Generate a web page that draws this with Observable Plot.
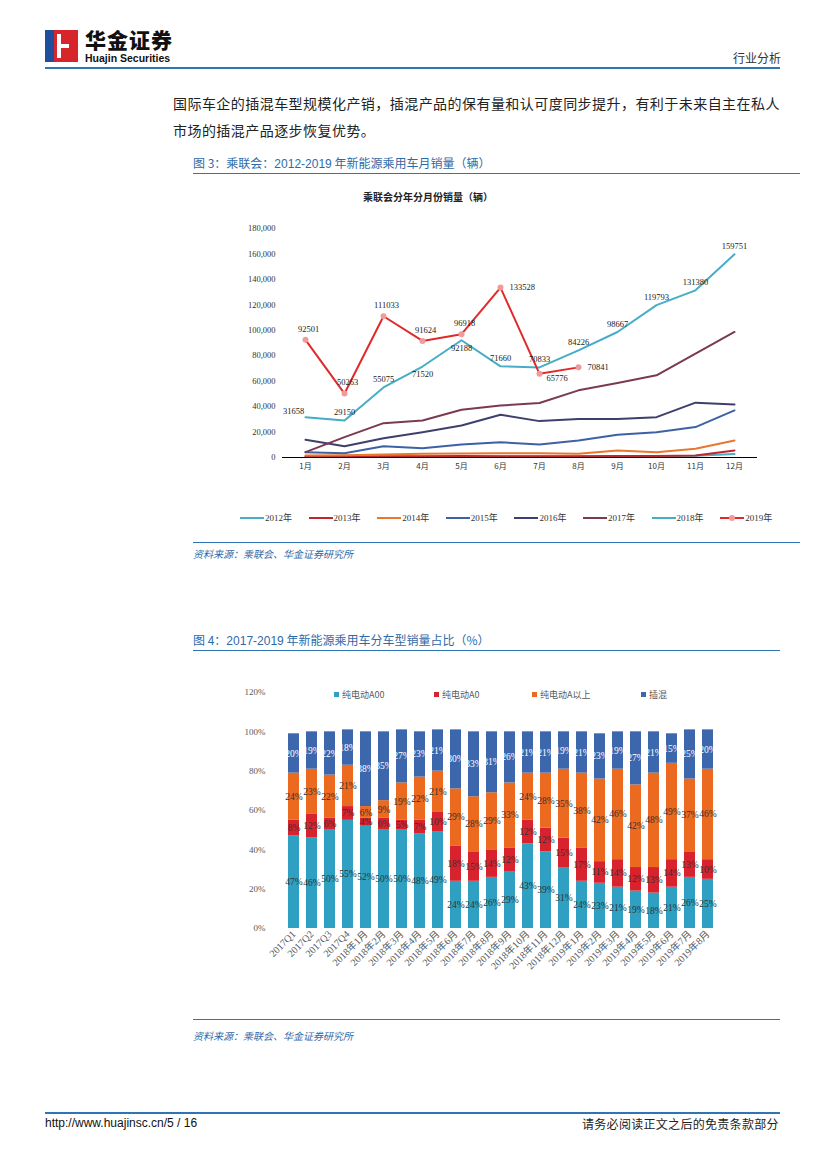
<!DOCTYPE html>
<html><head><meta charset="utf-8">
<script src="https://cdn.jsdelivr.net/npm/d3@7"></script>
<script src="https://cdn.jsdelivr.net/npm/@observablehq/plot@0.6"></script>
<style>
body{margin:0;background:#fff;}
#page{position:relative;width:827px;height:1169px;overflow:hidden;font-family:"Noto Sans CJK SC","Noto Sans",sans-serif;}
.abs{position:absolute;white-space:nowrap;}
.cap{color:#2f6aa8;font-size:12px;}
.src{color:#2f6aa8;font-size:10px;font-style:italic;}
.hr{position:absolute;height:0;border-top:1.5px solid #2e75b6;}
.leg1{position:absolute;top:511px;font-family:"Liberation Serif",serif;font-size:9px;color:#333;display:flex;align-items:center;}
.leg1 .ln{display:inline-block;width:24px;height:2px;margin-right:1px;position:relative;}
.leg2{position:absolute;top:688px;font-size:9px;color:#595959;display:flex;align-items:center;}
.leg2 .sq{display:inline-block;width:5px;height:5px;margin-right:3px;}
</style></head>
<body><div id="page">
<!-- header -->
<div class="abs" style="left:45px;top:30px;width:33px;height:32px;background:#d7252c;"></div>
<div class="abs" style="left:45px;top:30px;width:9px;height:32px;background:#1f4e9c;"></div>
<div class="abs" style="left:57px;top:34px;width:4px;height:24px;background:#fff;"></div>
<div class="abs" style="left:61px;top:44px;width:8px;height:4px;background:#fff;"></div>
<div class="abs" style="left:85px;top:29px;font-size:21px;line-height:21px;font-weight:900;color:#111;letter-spacing:1px;">华金证券</div>
<div class="abs" style="left:85px;top:53px;font-family:'Liberation Sans',sans-serif;font-size:10.5px;line-height:10px;font-weight:bold;color:#111;">Huajin Securities</div>
<div class="abs" style="left:733px;top:49px;font-size:12px;color:#333;">行业分析</div>
<div class="hr" style="left:45px;width:735px;top:67px;border-top-width:2px;"></div>

<div class="abs" style="left:173px;top:93px;font-size:14px;letter-spacing:0.45px;color:#222;">国际车企的插混车型规模化产销，插混产品的保有量和认可度同步提升，有利于未来自主在私人</div>
<div class="abs" style="left:173px;top:120px;font-size:14px;letter-spacing:0.45px;color:#222;">市场的插混产品逐步恢复优势。</div>

<!-- figure 3 -->
<div class="abs cap" style="left:193px;top:154px;">图 3：乘联会：<span style="font-family:'Liberation Sans',sans-serif;">2012-2019</span> 年新能源乘用车月销量（辆）</div>
<div class="hr" style="left:193px;width:607px;top:173px;"></div>
<div class="abs" style="left:363px;top:189px;font-size:10px;font-weight:bold;color:#222;">乘联会分年分月份销量（辆）</div>
<div id="chart1" class="abs" style="left:240px;top:210px;"></div>
<div id="legend1"></div>
<div class="hr" style="left:193px;width:607px;top:542px;"></div>
<div class="abs src" style="left:193px;top:546px;">资料来源：乘联会、华金证券研究所</div>

<!-- figure 4 -->
<div class="abs cap" style="left:193px;top:631px;">图 4：<span style="font-family:'Liberation Sans',sans-serif;">2017-2019</span> 年新能源乘用车分车型销量占比（%）</div>
<div class="hr" style="left:193px;width:587px;top:650px;"></div>
<div id="chart2" class="abs" style="left:200px;top:680px;"></div>
<div id="legend2"></div>
<div class="hr" style="left:193px;width:587px;top:1019px;"></div>
<div class="abs src" style="left:193px;top:1028px;">资料来源：乘联会、华金证券研究所</div>

<!-- footer -->
<div class="hr" style="left:45px;width:735px;top:1112px;border-top-width:2px;"></div>
<div class="abs" style="left:45px;top:1116px;font-family:'Liberation Sans',sans-serif;font-size:12px;color:#111;">http://www.huajinsc.cn/5 / 16</div>
<div class="abs" style="left:582px;top:1115px;font-size:12px;letter-spacing:0.3px;color:#222;">请务必阅读正文之后的免责条款部分</div>
</div>
<script>
// ---------- Figure 3 data ----------
const months = ["1月","2月","3月","4月","5月","6月","7月","8月","9月","10月","11月","12月"];
const years = ["2012年","2013年","2014年","2015年","2016年","2017年","2018年","2019年"];
const yearColors = ["#4aabc5","#c0272d","#e9772e","#3d62a3","#3e3f6d","#7b3a4f","#47adc6","#e02a2a"];
const s2012 = [300,400,500,500,600,700,700,800,900,1000,1300,2800];
const s2013 = [800,700,900,1000,1100,1000,900,1000,1100,1200,1500,5500];
const s2014 = [1600,1700,2400,2900,3200,3400,3400,2900,5500,4200,6800,13400];
const s2015 = [4200,3400,8900,7300,10200,12000,10200,13400,17800,19900,23900,37000];
const s2016 = [13900,8900,15200,19900,25200,33600,28600,30200,30200,31700,43100,41700];
const s2017 = [4200,16000,27000,29100,37500,40900,42800,52800,58500,64600,81600,98700];
const s2018 = [31658,29150,55075,71520,92188,71660,70833,84226,98667,119793,131380,159751];
const s2019 = [92501,50263,111033,91624,96918,133528,65776,70841];
const yTicks1 = [0,20000,40000,60000,80000,100000,120000,140000,160000,180000];

const seriesList = [s2012,s2013,s2014,s2015,s2016,s2017,s2018,s2019];
const long1 = [];
seriesList.forEach((vals, k) => vals.forEach((v, i) => long1.push({year: years[k], month: months[i], value: v, i})));
const d2018 = long1.filter(d => d.year === "2018年");
const d2019 = long1.filter(d => d.year === "2019年");

const chart1 = Plot.plot({
  width: 530, height: 280,
  marginLeft: 42, marginRight: 13, marginTop: 18, marginBottom: 33,
  x: {type: "point", domain: months, padding: 0.5, label: null},
  y: {domain: [0, 180000], label: null},
  color: {domain: years, range: yearColors},
  style: {fontFamily: "'Liberation Serif', serif", fontSize: "8.5px", color: "#333", background: "transparent"},
  marks: [
    Plot.axisY({ticks: yTicks1, tickSize: 0, tickPadding: 7, tickFormat: d3.format(","), label: null}),
    Plot.axisX({tickSize: 0, tickPadding: 6, label: null, fontFamily: "'Noto Sans CJK SC', sans-serif", fontSize: 8}),
    Plot.line(long1, {x: "month", y: "value", z: "year", stroke: "year", strokeWidth: 2}),
    Plot.ruleY([0], {stroke: "#000", strokeWidth: 1.2}),
    Plot.dot(d2019, {x: "month", y: "value", fill: "#f29a9a", r: 3, symbol: "circle"}),
    // 2018 labels
    Plot.text(d2018.filter(d => ![0,3,4].includes(d.i)), {x: "month", y: "value", text: d => String(d.value), dy: -8, fill: "#222"}),
    Plot.text(d2018.filter(d => d.i === 0), {x: "month", y: "value", text: d => String(d.value), dy: -6, dx: -12, fill: "#222"}),
    Plot.text(d2018.filter(d => [3,4].includes(d.i)), {x: "month", y: "value", text: d => String(d.value), dy: 8, fill: "#222"}),
    // 2019 labels
    Plot.text(d2019.filter(d => d.i <= 4), {x: "month", y: "value", text: d => String(d.value), dy: -11, dx: 3, fill: "#222"}),
    Plot.text(d2019.filter(d => d.i === 5 || d.i === 7), {x: "month", y: "value", text: d => String(d.value), dx: 9, textAnchor: "start", fill: "#222"}),
    Plot.text(d2019.filter(d => d.i === 6), {x: "month", y: "value", text: d => String(d.value), dx: 7, dy: 4, textAnchor: "start", fill: "#222"})
  ]
});
document.getElementById("chart1").appendChild(chart1);

// legend 1
const leg1 = document.getElementById("legend1");
years.forEach((y, k) => {
  const el = document.createElement("div");
  el.className = "leg1";
  el.style.left = (240 + k * 68.6) + "px";
  const dot = k === 7 ? '<span style="position:absolute;left:9px;top:-2px;width:6px;height:6px;border-radius:3px;background:#f29a9a;"></span>' : '';
  el.innerHTML = `<span class="ln" style="background:${yearColors[k]}">${dot}</span><span>${y.replace("年","")}<span style="font-family:'Noto Sans CJK SC'">年</span></span>`;
  leg1.appendChild(el);
});

// ---------- Figure 4 data ----------
const cats = ["2017Q1","2017Q2","2017Q3","2017Q4",
  "2018年1月","2018年2月","2018年3月","2018年4月","2018年5月","2018年6月","2018年7月","2018年8月","2018年9月","2018年10月","2018年11月","2018年12月",
  "2019年1月","2019年2月","2019年3月","2019年4月","2019年5月","2019年6月","2019年7月","2019年8月"];
const types = ["纯电动A00","纯电动A0","纯电动A以上","插混"];
const typeColors = ["#2fa0c2","#d8232f","#ec6a1f","#3d67ad"];
const a00   = [47,46,50,55,52,50,50,48,49,24,24,26,29,43,39,31,24,23,21,19,18,21,26,25];
const a0    = [8,12,6,7,4,6,5,7,10,18,15,14,12,12,12,15,17,11,14,12,13,14,13,10];
const aPlus = [24,23,22,21,6,9,19,22,21,29,28,29,33,24,28,35,38,42,46,42,48,49,37,46];
const phev  = [20,19,22,18,38,35,27,23,21,30,33,31,26,21,21,19,21,23,19,27,21,15,25,20];
const yTicks2 = [0,20,40,60,80,100,120];

const typeSeries = [a00, a0, aPlus, phev];
const long2 = [];
cats.forEach((c, i) => typeSeries.forEach((s, k) => long2.push({cat: c, type: types[k], value: s[i]})));

const chart2 = Plot.plot({
  width: 580, height: 320,
  marginLeft: 73, marginRight: 52, marginTop: 12, marginBottom: 72,
  x: {domain: cats, paddingInner: 0.38, paddingOuter: 0.19, label: null},
  y: {domain: [0, 120], label: null},
  color: {domain: types, range: typeColors},
  style: {fontFamily: "'Liberation Serif', serif", fontSize: "9px", color: "#595959", background: "transparent"},
  marks: [
    Plot.axisY({ticks: yTicks2, tickSize: 0, tickPadding: 8, tickFormat: d => d + "%", label: null, fontSize: 9}),
    Plot.axisX({tickSize: 0, tickPadding: 4, tickRotate: -45, label: null, fontFamily: "'Liberation Serif','Noto Sans CJK SC', serif", fontSize: 10}),
    Plot.barY(long2, {x: "cat", y: "value", fill: "type", z: "type"}),
    Plot.text(long2, Plot.stackY({x: "cat", y: "value", z: "type", text: d => d.value + "%",
      fill: d => d.type === "插混" ? "#ffffff" : "#333333", fontSize: 9.5}))
  ]
});
document.getElementById("chart2").appendChild(chart2);

// legend 2
const leg2 = document.getElementById("legend2");
const leg2x = [334, 434, 532, 641];
types.forEach((t, k) => {
  const el = document.createElement("div");
  el.className = "leg2";
  el.style.left = leg2x[k] + "px";
  el.innerHTML = `<span class="sq" style="background:${typeColors[k]}"></span><span>${t}</span>`;
  leg2.appendChild(el);
});
</script>
</body></html>
